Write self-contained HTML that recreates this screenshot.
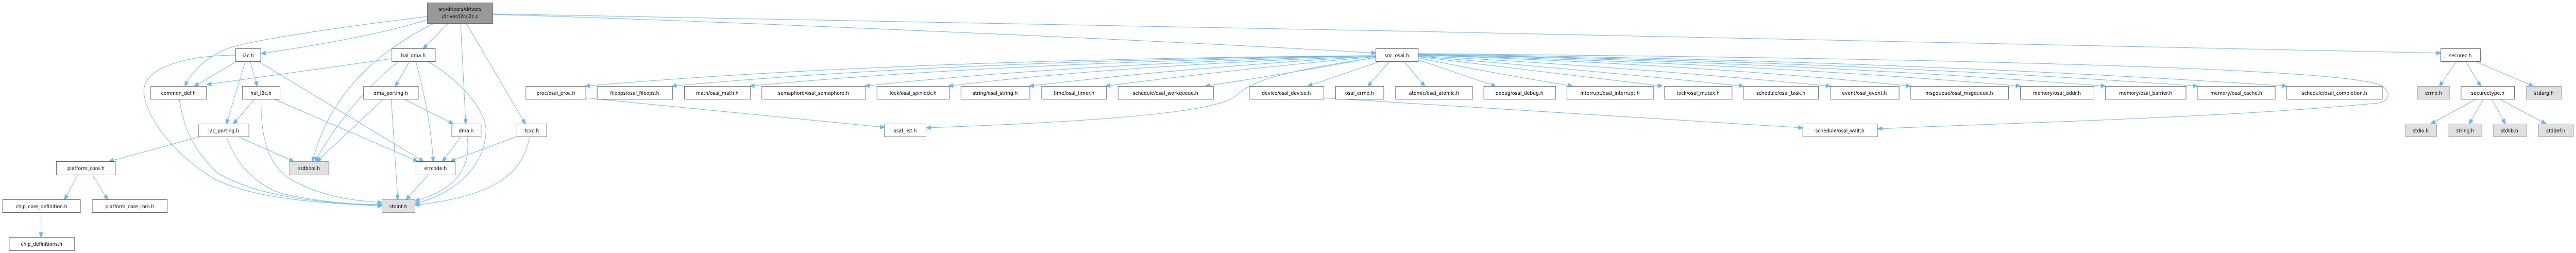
<!DOCTYPE html>
<html><head><meta charset="utf-8"><style>
html,body{margin:0;padding:0;background:#fff;width:100%;height:100%;overflow:hidden;}
svg{display:block;position:fixed;left:0;top:0;width:100vw;height:100vh;}
text{font-family:"DejaVu Sans","Liberation Sans",sans-serif;font-size:10px;fill:#000;text-anchor:middle;}
.n rect{fill:#fff;stroke:#666;stroke-width:1;}
.g rect{fill:#e0e0e0;stroke:#999;stroke-width:1;}
.e path{fill:none;stroke:#63b8ff;stroke-width:1;marker-end:url(#a);}
</style></head><body>
<svg viewBox="0 0 5459 491" preserveAspectRatio="none" xmlns="http://www.w3.org/2000/svg">
<defs><marker id="a" markerUnits="userSpaceOnUse" markerWidth="10" markerHeight="8" refX="9" refY="4" orient="auto"><path d="M0,0 L10,4 L0,8 Z" fill="#63b8ff" stroke="#63b8ff"/></marker></defs>
<g class="e">
<path d="M905,38 C800,70 620,95 554,104"/>
<path d="M905,32 C700,55 520,80 480,95 C420,120 400,150 392,167"/>
<path d="M920,45 C800,100 700,180 662,313"/>
<path d="M950,45 L897,94"/>
<path d="M976,45 L987,240"/>
<path d="M988,45 L1113,240"/>
<path d="M1044,28 C1500,40 2500,80 2915,103"/>
<path d="M1044,27 C2000,40 4500,90 5172,103"/>
<path d="M502,119 L412,167"/>
<path d="M530,119 L545,167"/>
<path d="M520,119 L480,240"/>
<path d="M547,119 L897,313"/>
<path d="M499,107 C400,107 300,130 305,180 C310,230 370,300 450,345 C550,395 750,395 809,400"/>
<path d="M830,114 L439,164"/>
<path d="M845,119 C760,180 700,260 668,313"/>
<path d="M868,119 L838,167"/>
<path d="M881,119 C900,180 915,260 918,313"/>
<path d="M905,119 C950,140 1025,200 1030,250 C1030,330 950,380 880,395"/>
<path d="M380,192 C390,260 420,300 460,335 C560,390 720,395 809,398"/>
<path d="M540,192 L495,240"/>
<path d="M553,192 C553,250 560,320 620,350 C690,385 760,390 809,393"/>
<path d="M580,192 L885,313"/>
<path d="M813,192 L672,313"/>
<path d="M829,192 L843,387"/>
<path d="M855,192 L960,240"/>
<path d="M425,265 L232,313"/>
<path d="M504,265 L622,313"/>
<path d="M480,265 C500,320 550,370 620,380 C700,395 770,397 809,397"/>
<path d="M977,265 L938,313"/>
<path d="M990,265 C1000,330 960,370 880,390"/>
<path d="M1095,265 L955,313"/>
<path d="M1122,265 C1110,330 1060,380 880,398"/>
<path d="M908,339 L861,387"/>
<path d="M165,339 L137,387"/>
<path d="M196,339 L228,387"/>
<path d="M87,412 L87,460"/>
<path d="M2915,108 Q1900,115 1241,167"/>
<path d="M2915,108 Q2000,118 1425,167"/>
<path d="M2915,108 Q2100,122 1590,167"/>
<path d="M2915,108 Q2250,125 1834,167"/>
<path d="M2915,109 Q2350,128 2011,167"/>
<path d="M2915,109 Q2500,132 2182,167"/>
<path d="M2915,110 Q2600,136 2344,167"/>
<path d="M2915,111 Q2750,140 2555,167"/>
<path d="M2925,119 L2772,167"/>
<path d="M2945,119 L2899,167"/>
<path d="M2975,119 L3019,167"/>
<path d="M3005,116 L3169,167"/>
<path d="M3005,112 Q3150,140 3332,167"/>
<path d="M3005,110 Q3250,138 3522,167"/>
<path d="M3005,109 Q3350,135 3694,167"/>
<path d="M3005,108 Q3450,130 3878,167"/>
<path d="M3005,107 Q3600,125 4048,167"/>
<path d="M3005,107 Q3700,122 4281,167"/>
<path d="M3005,106 Q3800,120 4461,167"/>
<path d="M3005,106 Q3900,118 4656,167"/>
<path d="M3005,105 Q4000,116 4845,167"/>
<path d="M2915,112 C2700,140 2650,160 2620,185 C2580,225 2200,240 1964,248"/>
<path d="M1241,190 L1874,247"/>
<path d="M3005,104 C4000,112 5000,130 5050,168 C5070,185 5060,196 5040,200 C4700,230 4200,240 3980,250"/>
<path d="M2805,190 L3820,248"/>
<path d="M5205,119 L5170,167"/>
<path d="M5225,119 L5257,167"/>
<path d="M5245,119 L5368,167"/>
<path d="M5248,192 L5152,240"/>
<path d="M5263,192 L5233,240"/>
<path d="M5280,192 L5309,240"/>
<path d="M5296,192 L5395,240"/>
</g>
<g><rect x="905.5" y="5.5" width="139" height="40" fill="#999" stroke="#666"/><text x="975" y="21">src/drivers/drivers</text><text x="975" y="35">/driver/i2c/i2c.c</text></g>
<g class="n">
<rect x="499.5" y="94.5" width="53" height="25"/><text x="526" y="111">i2c.h</text>
<rect x="830.5" y="94.5" width="92" height="25"/><text x="876" y="111">hal_dma.h</text>
<rect x="2915.5" y="94.5" width="90" height="25"/><text x="2960" y="111">soc_osal.h</text>
<rect x="5172.5" y="94.5" width="84" height="25"/><text x="5214" y="111">securec.h</text>
<rect x="319.5" y="167.5" width="118" height="25"/><text x="378" y="184">common_def.h</text>
<rect x="513.5" y="167.5" width="80" height="25"/><text x="553" y="184">hal_i2c.h</text>
<rect x="770.5" y="167.5" width="116" height="25"/><text x="828" y="184">dma_porting.h</text>
<rect x="1114.5" y="167.5" width="127" height="25"/><text x="1178" y="184">proc/osal_proc.h</text>
<rect x="1265.5" y="167.5" width="160" height="25"/><text x="1345" y="184">fileops/osal_fileops.h</text>
<rect x="1450.5" y="167.5" width="140" height="25"/><text x="1520" y="184">math/osal_math.h</text>
<rect x="1614.5" y="167.5" width="220" height="25"/><text x="1724" y="184">semaphore/osal_semaphore.h</text>
<rect x="1858.5" y="167.5" width="153" height="25"/><text x="1935" y="184">lock/osal_spinlock.h</text>
<rect x="2036.5" y="167.5" width="146" height="25"/><text x="2109" y="184">string/osal_string.h</text>
<rect x="2207.5" y="167.5" width="137" height="25"/><text x="2276" y="184">time/osal_timer.h</text>
<rect x="2369.5" y="167.5" width="202" height="25"/><text x="2470" y="184">schedule/osal_workqueue.h</text>
<rect x="2647.5" y="167.5" width="158" height="25"/><text x="2726" y="184">device/osal_device.h</text>
<rect x="2830.5" y="167.5" width="102" height="25"/><text x="2881" y="184">osal_errno.h</text>
<rect x="2957.5" y="167.5" width="163" height="25"/><text x="3039" y="184">atomic/osal_atomic.h</text>
<rect x="3144.5" y="167.5" width="152" height="25"/><text x="3220" y="184">debug/osal_debug.h</text>
<rect x="3320.5" y="167.5" width="184" height="25"/><text x="3412" y="184">interrupt/osal_interrupt.h</text>
<rect x="3527.5" y="167.5" width="143" height="25"/><text x="3599" y="184">lock/osal_mutex.h</text>
<rect x="3694.5" y="167.5" width="159" height="25"/><text x="3774" y="184">schedule/osal_task.h</text>
<rect x="3878.5" y="167.5" width="146" height="25"/><text x="3951" y="184">event/osal_event.h</text>
<rect x="4048.5" y="167.5" width="208" height="25"/><text x="4152" y="184">msgqueue/osal_msgqueue.h</text>
<rect x="4281.5" y="167.5" width="156" height="25"/><text x="4359" y="184">memory/osal_addr.h</text>
<rect x="4461.5" y="167.5" width="171" height="25"/><text x="4547" y="184">memory/osal_barrier.h</text>
<rect x="4656.5" y="167.5" width="165" height="25"/><text x="4739" y="184">memory/osal_cache.h</text>
<rect x="4845.5" y="167.5" width="203" height="25"/><text x="4947" y="184">schedule/osal_completion.h</text>
<rect x="5215.5" y="167.5" width="113" height="25"/><text x="5272" y="184">securectype.h</text>
<rect x="420.5" y="240.5" width="107" height="25"/><text x="474" y="257">i2c_porting.h</text>
<rect x="957.5" y="240.5" width="62" height="25"/><text x="988" y="257">dma.h</text>
<rect x="1095.5" y="240.5" width="63" height="25"/><text x="1127" y="257">tcxo.h</text>
<rect x="1874.5" y="240.5" width="88" height="25"/><text x="1918" y="257">osal_list.h</text>
<rect x="3820.5" y="240.5" width="158" height="25"/><text x="3899" y="257">schedule/osal_wait.h</text>
<rect x="119.5" y="313.5" width="125" height="26"/><text x="182" y="330">platform_core.h</text>
<rect x="881.5" y="313.5" width="83" height="26"/><text x="923" y="330">errcode.h</text>
<rect x="5.5" y="387.5" width="165" height="25"/><text x="88" y="404">chip_core_definition.h</text>
<rect x="195.5" y="387.5" width="159" height="25"/><text x="275" y="404">platform_core_rom.h</text>
<rect x="19.5" y="460.5" width="138" height="26"/><text x="88" y="477">chip_definitions.h</text>
</g>
<g class="g">
<rect x="613.5" y="313.5" width="83" height="26"/><text x="655" y="330">stdbool.h</text>
<rect x="809.5" y="387.5" width="70" height="25"/><text x="844" y="404">stdint.h</text>
<rect x="5123.5" y="167.5" width="68" height="25"/><text x="5157" y="184">errno.h</text>
<rect x="5353.5" y="167.5" width="75" height="25"/><text x="5391" y="184">stdarg.h</text>
<rect x="5097.5" y="240.5" width="66" height="25"/><text x="5130" y="257">stdio.h</text>
<rect x="5189.5" y="240.5" width="70" height="25"/><text x="5224" y="257">string.h</text>
<rect x="5283.5" y="240.5" width="71" height="25"/><text x="5318" y="257">stdlib.h</text>
<rect x="5379.5" y="240.5" width="74" height="25"/><text x="5416" y="257">stddef.h</text>
</g>
</svg>
</body></html>
